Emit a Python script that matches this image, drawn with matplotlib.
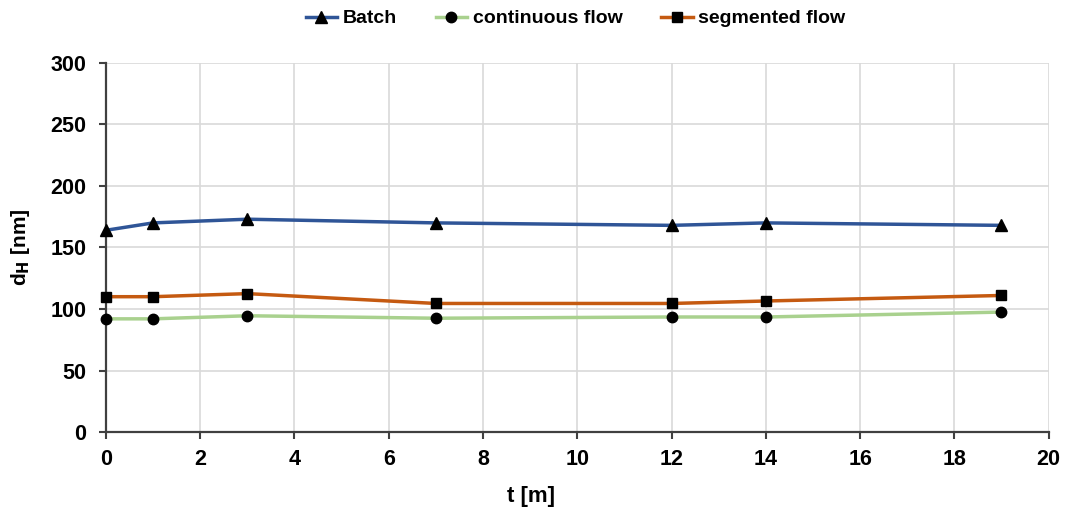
import matplotlib
matplotlib.use('Agg')
from matplotlib import pyplot as plt

t = [0, 1, 3, 7, 12, 14, 19]
batch = [164, 170, 173, 170, 168, 170, 168]
continuous = [92, 92, 94.5, 92.5, 93.5, 93.5, 97.5]
segmented = [110, 110, 112.5, 104.5, 104.5, 106.5, 111]

plt.rcParams['font.family'] = ['Liberation Sans', 'DejaVu Sans']
plt.rcParams['font.weight'] = 'bold'

fig = plt.figure(figsize=(10.66, 5.08), dpi=100)
ax = fig.add_axes([0.0994, 0.1496, 0.8843, 0.7264])

ax.plot(t, batch, color='#2F5597', lw=2.5, marker='^', ms=8.5, mfc='black', mec='black',
        label='Batch', clip_on=False, zorder=3)
ax.plot(t, continuous, color='#A9D18E', lw=2.5, marker='o', ms=7.5, mfc='black', mec='black',
        label='continuous flow', clip_on=False, zorder=3)
ax.plot(t, segmented, color='#C55A11', lw=2.5, marker='s', ms=7.5, mfc='black', mec='black',
        label='segmented flow', clip_on=False, zorder=3)

ax.set_xlim(0, 20)
ax.set_ylim(0, 300)
ax.set_xticks(range(0, 21, 2))
ax.set_yticks(range(0, 301, 50))
ax.grid(True, color='#d9d9d9', lw=1.2)
ax.set_axisbelow(True)
for s in ['top', 'right']:
    ax.spines[s].set_visible(False)
for s in ['left', 'bottom']:
    ax.spines[s].set_color('#404040')
    ax.spines[s].set_linewidth(1.6)
ax.tick_params(direction='out', length=5, width=1.5, color='#404040', labelsize=15.5)
ax.tick_params(axis='y', pad=9)
ax.tick_params(axis='x', pad=7)
for lab in ax.get_xticklabels() + ax.get_yticklabels():
    lab.set_fontweight('bold')

ax.set_xlabel('t [m]', fontsize=16, fontweight='bold')
ax.xaxis.set_label_coords(0.451, -0.145)
ax.set_ylabel('d$_\\mathbf{H}$ [nm]', fontsize=15, fontweight='bold')
ax.yaxis.set_label_coords(-0.078, 0.5)

fig.legend(loc='upper center', bbox_to_anchor=(0.54, 1.015), ncol=3, frameon=False,
           fontsize=14, handlelength=1.6, handletextpad=0.3, columnspacing=2.0)

fig.savefig('out.png', dpi=100)
